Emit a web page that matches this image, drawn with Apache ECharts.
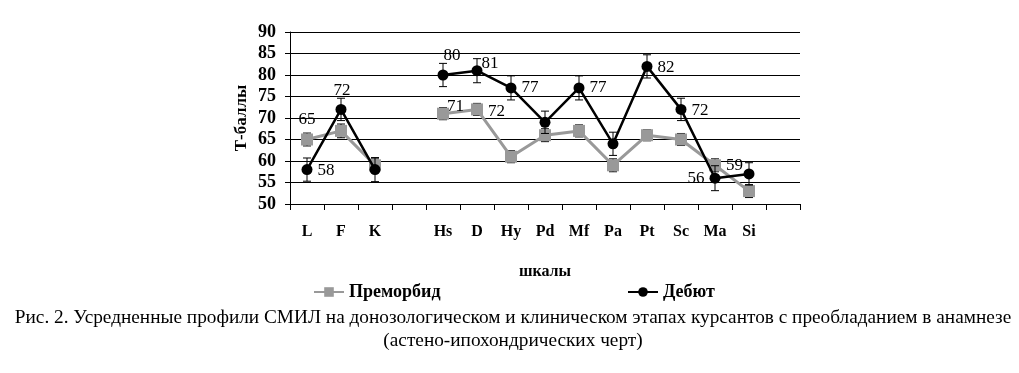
<!DOCTYPE html>
<html><head><meta charset="utf-8">
<script src="https://cdn.jsdelivr.net/npm/echarts@6/dist/echarts.min.js"></script>
<style>html,body{margin:0;padding:0;background:#fff}#c{width:1019px;height:373px}</style>
</head><body><div id="c"></div>
<script>
var categories = ['L','F','K','','Hs','D','Hy','Pd','Mf','Pa','Pt','Sc','Ma','Si',''];
var yTicks = [50,55,60,65,70,75,80,85,90];
var premorbid = [65,67,59,null,71,72,61,66,67,59,66,65,59,53,null];
var premorbidErr = [1.5,1.6,1.5,null,1.4,1.4,1.4,1.5,1.4,1.5,1.3,1.4,1.5,1.5,null];
var debut = [58,72,58,null,80,81,77,69,77,64,82,72,56,57,null];
var debutErr = [2.7,2.6,2.8,null,2.7,2.8,2.8,2.6,2.8,2.7,2.7,2.6,2.9,2.6,null];
var premorbidLabels = ['65',null,null,null,'71','72',null,null,null,null,null,null,'59',null,null];
var debutLabels = ['58','72',null,null,'80','81','77',null,'77',null,'82','72','56',null,null];
var caption = 'Рис. 2. Усредненные профили СМИЛ на донозологическом и клиническом этапах курсантов с преобладанием в анамнезе\n(астено-ипохондрических черт)';

var FONT = '"Liberation Serif","Times New Roman",serif';
var premorbidPos = {0:['top',[0,0]],4:['right',[-7,-7]],5:['right',[0,2]],12:['right',[0,0]]};
var debutPos = {0:['right',[0,1]],1:['top',[1,0]],4:['top',[9,0]],5:['right',[-6,-7]],6:['right',[0,0]],8:['right',[0,0]],10:['right',[0,1]],11:['right',[0,1]],12:['left',[0,0]]};

function buildData(vals, labels, pos){
  return vals.map(function(v,i){
    if(v===null) return '-';
    var item = {value:v};
    if(labels[i]!==null){
      var p = pos[i] || ['top',[0,0]];
      item.label = {show:true, formatter:labels[i], position:p[0], offset:p[1]};
    }
    return item;
  });
}
function errData(vals, errs){
  var out=[];
  vals.forEach(function(v,i){ if(v!==null) out.push([i, v-errs[i], v+errs[i]]); });
  return out;
}
function errRender(params, api){
  var x = api.value(0);
  var lo = api.coord([x, api.value(1)]);
  var hi = api.coord([x, api.value(2)]);
  var w = 4;
  var st = {stroke:'#000', lineWidth:1};
  return {type:'group', children:[
    {type:'line', shape:{x1:lo[0],y1:lo[1],x2:hi[0],y2:hi[1]}, style:st},
    {type:'line', shape:{x1:lo[0]-w,y1:lo[1],x2:lo[0]+w,y2:lo[1]}, style:st},
    {type:'line', shape:{x1:hi[0]-w,y1:hi[1],x2:hi[0]+w,y2:hi[1]}, style:st}
  ]};
}

var chart = echarts.init(document.getElementById('c'), null, {renderer:'canvas'});
chart.setOption({
  animation:false,
  backgroundColor:'#fff',
  textStyle:{fontFamily:FONT, color:'#000'},
  title:{text:caption, left:508, top:301, textAlign:'center',
    textStyle:{fontFamily:FONT, fontSize:19.3, fontWeight:'normal', color:'#000', lineHeight:23}},
  legend:[
    {data:['Преморбид'], left:313, top:283, padding:0, itemWidth:30, itemHeight:12, itemGap:0,
      textStyle:{fontFamily:FONT, fontSize:18, fontWeight:'bold', color:'#000'}},
    {data:['Дебют'], left:627, top:283, padding:0, itemWidth:30, itemHeight:12, itemGap:0,
      textStyle:{fontFamily:FONT, fontSize:18, fontWeight:'bold', color:'#000'}}
  ],
  grid:{left:290, right:219, top:32, bottom:169, containLabel:false},
  xAxis:{type:'category', data:categories, boundaryGap:true,
    axisLine:{lineStyle:{color:'#000', width:1}},
    axisTick:{show:true, length:6, alignWithLabel:false, lineStyle:{color:'#000'}},
    axisLabel:{fontFamily:FONT, fontSize:16, fontWeight:'bold', color:'#000', margin:20, interval:0},
    name:'шкалы', nameLocation:'middle', nameGap:60,
    nameTextStyle:{fontFamily:FONT, fontSize:16, fontWeight:'bold', color:'#000'}},
  yAxis:{type:'value', min:yTicks[0], max:yTicks[yTicks.length-1], interval:5,
    axisLine:{show:true, lineStyle:{color:'#000', width:1}},
    axisTick:{show:true, length:5, lineStyle:{color:'#000'}},
    splitLine:{show:true, lineStyle:{color:'#000', width:1}},
    axisLabel:{fontFamily:FONT, fontSize:18, fontWeight:'bold', color:'#000', margin:14},
    name:'Т-баллы', nameLocation:'middle', nameGap:40, nameRotate:90, nameMoveOverlap:false,
    nameTextStyle:{fontFamily:FONT, fontSize:17, fontWeight:'bold', color:'#000'}},
  series:[
    {type:'custom', renderItem:errRender, data:errData(premorbid, premorbidErr), z:1, silent:true},
    {name:'Преморбид', type:'line', data:buildData(premorbid, premorbidLabels, premorbidPos),
      connectNulls:false, symbol:'rect', symbolSize:12, z:2,
      lineStyle:{color:'#999999', width:3}, itemStyle:{color:'#999999'},
      label:{fontFamily:FONT, fontSize:17, color:'#000'}},
    {type:'custom', renderItem:errRender, data:errData(debut, debutErr), z:3, silent:true},
    {name:'Дебют', type:'line', data:buildData(debut, debutLabels, debutPos),
      connectNulls:false, symbol:'circle', symbolSize:11, z:4,
      lineStyle:{color:'#000', width:2.5}, itemStyle:{color:'#000'},
      label:{fontFamily:FONT, fontSize:17, color:'#000'}}
  ]
});
</script></body></html>
